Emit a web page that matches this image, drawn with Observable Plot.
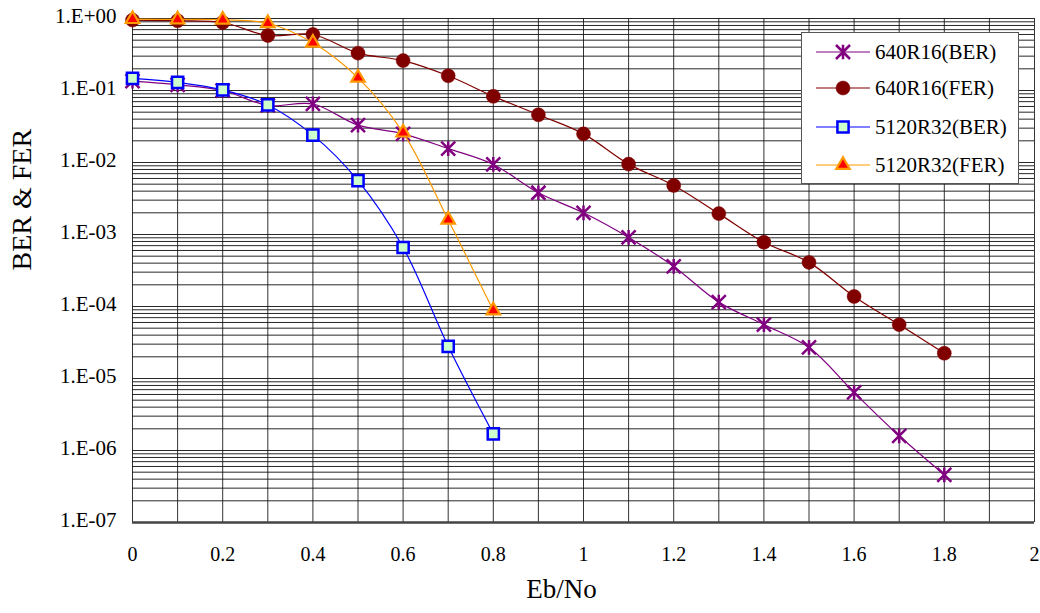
<!DOCTYPE html>
<html>
<head>
<meta charset="utf-8">
<script src="https://cdn.jsdelivr.net/npm/d3@7"></script>
<script src="https://cdn.jsdelivr.net/npm/@observablehq/plot@0.6"></script>
<style>
  html, body { margin: 0; padding: 0; background: #fff; }
  #wrap { position: relative; width: 1040px; height: 613px; font-family: "Liberation Serif", "Times New Roman", serif; }
  #legend { position: absolute; left: 801px; top: 32px; width: 218px; height: 152px; box-sizing: border-box; border: 1.5px solid #555; background: #fff; }
</style>
</head>
<body>
<div id="wrap"><div id="legend"></div></div>
<script>
// ---- data ----
const ebno640 = [0, 0.1, 0.2, 0.3, 0.4, 0.5, 0.6, 0.7, 0.8, 0.9, 1.0, 1.1, 1.2, 1.3, 1.4, 1.5, 1.6, 1.7, 1.8];
const ber640 = [0.135, 0.12, 0.1, 0.062, 0.065, 0.033, 0.025, 0.0156, 0.0094, 0.0038, 0.002, 0.00091, 0.00036, 0.000115, 0.000056, 0.000027, 0.0000064, 0.0000016, 0.00000046];
const fer640 = [0.95, 0.93, 0.88, 0.58, 0.6, 0.33, 0.26, 0.16, 0.083, 0.046, 0.025, 0.0095, 0.0048, 0.00195, 0.00078, 0.00041, 0.000138, 0.000056, 0.0000224];
const ebno5120 = [0, 0.1, 0.2, 0.3, 0.4, 0.5, 0.6, 0.7, 0.8];
const ber5120 = [0.147, 0.13, 0.102, 0.063, 0.024, 0.0056, 0.00066, 0.000028, 0.0000017];
const fer5120 = [0.98, 0.97, 0.96, 0.86, 0.46, 0.15, 0.026, 0.0016, 0.000088];
const seriesNames = ["640R16(BER)", "640R16(FER)", "5120R32(BER)", "5120R32(FER)"];
const xTicks = [0, 0.2, 0.4, 0.6, 0.8, 1, 1.2, 1.4, 1.6, 1.8, 2];
const xTickLabels = ["0", "0.2", "0.4", "0.6", "0.8", "1", "1.2", "1.4", "1.6", "1.8", "2"];
const yTicks = [1, 1e-1, 1e-2, 1e-3, 1e-4, 1e-5, 1e-6, 1e-7];
const yTickLabels = ["1.E+00", "1.E-01", "1.E-02", "1.E-03", "1.E-04", "1.E-05", "1.E-06", "1.E-07"];

// ---- styles ----
const FONT = '"Liberation Serif", "Times New Roman", serif';
const starSymbol = {
  draw(ctx, size) {
    const r = Math.sqrt(size / Math.PI);
    ctx.moveTo(-r, -r); ctx.lineTo(r, r);
    ctx.moveTo(r, -r); ctx.lineTo(-r, r);
    ctx.moveTo(0, -r * 1.05); ctx.lineTo(0, r * 1.05);
  }
};
const styles = [
  {line: "#800080", symbol: starSymbol, fill: "none", stroke: "#800080", sw: 2.5, r: 7},
  {line: "#800000", symbol: "circle", fill: "#800000", stroke: "#800000", sw: 0.5, r: 7},
  {line: "#0000ff", symbol: "square", fill: "#ccffcc", stroke: "#0000ff", sw: 2.5, r: 6.3},
  {line: "#ff9900", symbol: "triangle", fill: "#ff0000", stroke: "#ff9900", sw: 2.2, r: 5}
];

const rows = (xs, ys) => xs.map((x, i) => ({x, y: ys[i]}));
const series = [rows(ebno640, ber640), rows(ebno640, fer640), rows(ebno5120, ber5120), rows(ebno5120, fer5120)];

// grid values
const xGrid = d3.range(0, 21).map(i => i / 10);
const yGrid = [];
for (let e = -7; e < 0; e++) for (let k = 1; k <= 9; k++) yGrid.push(k * Math.pow(10, e));
yGrid.push(1);

const marks = [
  Plot.ruleY(yGrid, {stroke: "#111", strokeWidth: 1, strokeOpacity: 0.9}),
  Plot.ruleX(xGrid, {stroke: "#111", strokeWidth: 1, strokeOpacity: 0.85}),
  Plot.ruleY([1e-7], {stroke: "#444", strokeWidth: 2.5}),
  Plot.axisX({ticks: xTicks, tickFormat: d => xTickLabels[xTicks.indexOf(d)], tickSize: 0, tickPadding: 24, fontSize: 20, fill: "#000", label: null}),
  Plot.axisY({ticks: yTicks, tickFormat: d => yTickLabels[yTicks.indexOf(d)], tickSize: 0, tickPadding: 16, fontSize: 21, dy: -2, fill: "#000", label: null}),
  Plot.text(["BER & FER"], {frameAnchor: "left", dx: -110, rotate: -90, fontSize: 28, fill: "#000"}),
  Plot.text(["Eb/No"], {frameAnchor: "bottom", dx: -22, dy: 75, fontSize: 27, fill: "#000"})
];
series.forEach((data, i) => {
  const s = styles[i];
  marks.push(Plot.line(data, {x: "x", y: "y", stroke: s.line, strokeWidth: 1.2, curve: "catmull-rom"}));
  marks.push(Plot.dot(data, {x: "x", y: "y", symbol: () => s.symbol, r: s.r, fill: s.fill, stroke: s.stroke, strokeWidth: s.sw}));
});

const chart = Plot.plot({
  width: 1040,
  height: 613,
  marginLeft: 132,
  marginRight: 6,
  marginTop: 18,
  marginBottom: 91,
  style: {fontFamily: FONT, background: "#fff", color: "#000"},
  x: {domain: [0, 2]},
  y: {type: "log", domain: [1e-7, 1]},
  symbol: {type: "identity"},
  marks
});
document.getElementById("wrap").prepend(chart);

// ---- legend ----
const leg = d3.select("#legend").append("svg").attr("width", 215).attr("height", 149).style("display", "block");
const rowY = [19, 55, 94, 132];
seriesNames.forEach((name, i) => {
  const s = styles[i];
  const g = leg.append("g").attr("transform", `translate(0,${rowY[i]})`);
  g.append("line").attr("x1", 14).attr("x2", 68).attr("y1", 0).attr("y2", 0).attr("stroke", s.line).attr("stroke-width", 1.2);
  const sym = typeof s.symbol === "string"
    ? {circle: d3.symbolCircle, square: d3.symbolSquare, triangle: d3.symbolTriangle}[s.symbol]
    : s.symbol;
  g.append("path").attr("transform", "translate(41,0)")
    .attr("d", d3.symbol(sym, Math.PI * s.r * s.r)())
    .attr("fill", s.fill).attr("stroke", s.stroke).attr("stroke-width", s.sw);
  g.append("text").attr("x", 73).attr("y", 0).attr("dy", "0.35em")
    .style("font-family", FONT).style("font-size", "21px").attr("fill", "#000").text(name);
});
</script>
</body>
</html>
